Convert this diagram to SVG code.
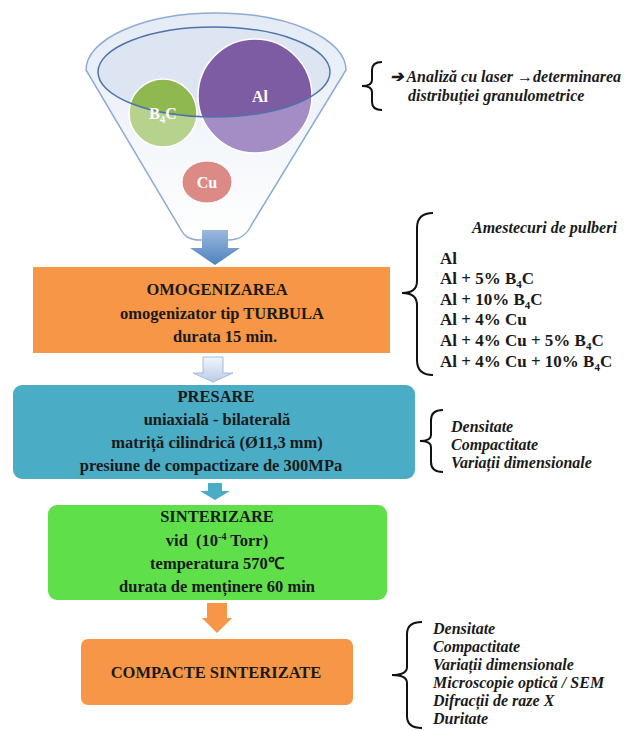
<svg xmlns="http://www.w3.org/2000/svg" width="634" height="731" viewBox="0 0 634 731">
<style>
.t{font-family:"Liberation Serif","Times New Roman",serif;font-weight:bold;font-size:16.5px;fill:#1a1a1a;text-anchor:middle}
.r{font-family:"Liberation Serif","Times New Roman",serif;font-weight:bold;font-style:italic;font-size:16px;fill:#1a1a1a}
.l{font-family:"Liberation Serif","Times New Roman",serif;font-weight:bold;font-size:17px;fill:#1a1a1a}
.c{font-family:"Liberation Serif","Times New Roman",serif;font-weight:bold;font-size:16px;fill:#ffffff;text-anchor:middle}
.br{fill:none;stroke:#111;stroke-width:2}
</style>
<defs>
<clipPath id="inner"><ellipse cx="214" cy="72" rx="116" ry="45"/></clipPath>
<linearGradient id="fun" x1="0" y1="0" x2="0" y2="1">
<stop offset="0" stop-color="#e4ebf5"/><stop offset="1" stop-color="#ffffff"/>
</linearGradient>
<linearGradient id="barr" x1="0" y1="0" x2="0" y2="1">
<stop offset="0" stop-color="#9bb9df"/><stop offset="1" stop-color="#4f81bd"/>
</linearGradient>
<linearGradient id="larr" x1="0" y1="0" x2="0" y2="1">
<stop offset="0" stop-color="#f2f6fb"/><stop offset="1" stop-color="#b9cce6"/>
</linearGradient>
</defs>
<rect width="634" height="731" fill="#ffffff"/>

<g id="funnel">
<path d="M86,70 A130,57 0 0 1 346,70 L252,224 C247,235 240,240 228,240 L200,240 C189,240 184,236 180,228 Z" fill="url(#fun)" stroke="#8eaad6" stroke-width="1.5"/>
<ellipse cx="214" cy="72" rx="116" ry="45" fill="#dce5f1"/>
<circle cx="163" cy="113" r="34" fill="#b6d28c"/>
<circle cx="255" cy="96" r="57" fill="#a48dc5"/>
<g clip-path="url(#inner)">
<circle cx="163" cy="113" r="34" fill="#8fb851"/>
<circle cx="255" cy="96" r="57" fill="#7e5ca4"/>
</g>
<circle cx="163" cy="113" r="34" fill="none" stroke="#ffffff" stroke-width="1.5"/>
<circle cx="255" cy="96" r="57" fill="none" stroke="#ffffff" stroke-width="1.5"/>
<ellipse cx="207" cy="182" rx="25" ry="21" fill="#dc8a86" stroke="#ffffff" stroke-width="1"/>
<ellipse cx="214" cy="72" rx="116" ry="45" fill="none" stroke="#4f73a8" stroke-width="1.5"/>
<text class="c" x="260" y="102">Al</text>
<text class="c" x="163" y="119">B<tspan font-size="11" dy="4">4</tspan><tspan dy="-4">C</tspan></text>
<text class="c" x="207" y="188">Cu</text>
</g>

<g id="connectors">
<path d="M202,230 H228 V248 H240 L215,265 L190,248 H202 Z" fill="url(#barr)"/>
<path d="M203,357 H223 V373 H233 L213,382 L193,373 H203 Z" fill="url(#larr)" stroke="#a3bcdc" stroke-width="1"/>
<path d="M208,483 H222 V491 H230 L215,500 L200,491 H208 Z" fill="#4bacc6"/>
<path d="M207,603 H227 V618 H232 L217,633 L202,618 H207 Z" fill="#f79646"/>
</g>

<g id="omogenizarea">
<rect x="33" y="267" width="357" height="86" fill="#f79646"/>
<text class="t" x="217" y="295">OMOGENIZAREA</text>
<text class="t" x="222" y="319">omogenizator tip TURBULA</text>
<text class="t" x="225" y="342">durata 15 min.</text>
</g>

<g id="presare">
<rect x="13" y="385" width="402" height="94" rx="9" fill="#4bacc6"/>
<text class="t" x="216" y="402">PRESARE</text>
<text class="t" x="217" y="425">uniaxială - bilaterală</text>
<text class="t" x="217" y="448">matriță cilindrică (Ø11,3 mm)</text>
<text class="t" x="211" y="471">presiune de compactizare de 300MPa</text>
</g>

<g id="sinterizare">
<rect x="48" y="505" width="339" height="95" rx="9" fill="#5fe04b"/>
<text class="t" x="217" y="522">SINTERIZARE</text>
<text class="t" x="217" y="546" xml:space="preserve">vid  (10<tspan font-size="10" dy="-6">-4</tspan><tspan dy="6"> Torr)</tspan></text>
<text class="t" x="217" y="569">temperatura 570℃</text>
<text class="t" x="217" y="592">durata de menținere 60 min</text>
</g>

<g id="compacte">
<rect x="81" y="639" width="272" height="66" rx="7" fill="#f79646"/>
<text class="t" x="216" y="678">COMPACTE SINTERIZATE</text>
</g>

<g id="note-laser">
<path class="br" d="M382,62 Q372,62 372,70 L372,80 Q372,86 362,86 Q372,86 372,92 L372,102 Q372,110 382,110"/>
<text class="r" x="390" y="82" font-size="16.5">➔ Analiză cu laser →determinarea</text>
<text class="r" x="408" y="101" font-size="16.5">distribuției granulometrice</text>
</g>

<g id="note-pulberi">
<path class="br" d="M433,213 Q417,213 417,228 L417,281 Q417,293 402,293 Q417,293 417,305 L417,360 Q417,375 433,375"/>
<text class="r" x="472" y="233">Amestecuri de pulberi</text>
<text class="l" x="440" y="264">Al</text>
<text class="l" x="440" y="284">Al + 5% B<tspan font-size="11" dy="4">4</tspan><tspan dy="-4">C</tspan></text>
<text class="l" x="440" y="305">Al + 10% B<tspan font-size="11" dy="4">4</tspan><tspan dy="-4">C</tspan></text>
<text class="l" x="440" y="325">Al + 4% Cu</text>
<text class="l" x="440" y="346">Al + 4% Cu + 5% B<tspan font-size="11" dy="4">4</tspan><tspan dy="-4">C</tspan></text>
<text class="l" x="440" y="367">Al + 4% Cu + 10% B<tspan font-size="11" dy="4">4</tspan><tspan dy="-4">C</tspan></text>
</g>

<g id="note-presare">
<path class="br" d="M443,410 Q431,410 431,420 L431,435 Q431,441 420,441 Q431,441 431,447 L431,462 Q431,472 443,472"/>
<text class="r" x="451" y="432" font-size="16.5">Densitate</text>
<text class="r" x="451" y="450" font-size="16.5">Compactitate</text>
<text class="r" x="451" y="468" font-size="16.5">Variații dimensionale</text>
</g>

<g id="note-compacte">
<path class="br" d="M422,622 Q407,622 407,634 L407,667 Q407,675 392,675 Q407,675 407,683 L407,716 Q407,728 422,728"/>
<text class="r" x="433" y="634">Densitate</text>
<text class="r" x="433" y="652">Compactitate</text>
<text class="r" x="433" y="670">Variații dimensionale</text>
<text class="r" x="433" y="688">Microscopie optică / SEM</text>
<text class="r" x="433" y="706">Difracții de raze X</text>
<text class="r" x="433" y="724">Duritate</text>
</g>
</svg>
